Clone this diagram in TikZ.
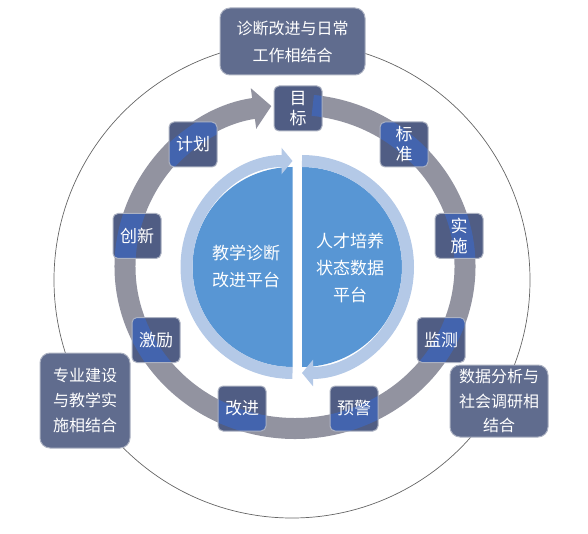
\documentclass[tikz,border=0pt]{standalone}
\usepackage{fontspec}
\setmainfont{Noto Sans CJK SC}
\usetikzlibrary{calc}
\usetikzlibrary{arrows.meta}
\definecolor{ringgray}{RGB}{146,147,160}
\definecolor{boxdark}{RGB}{80,93,132}
\definecolor{hiblue}{RGB}{62,104,192}
\definecolor{outerfill}{RGB}{96,108,142}
\definecolor{edgegray}{RGB}{172,178,194}
\definecolor{coreblue}{RGB}{88,150,212}
\definecolor{corelight}{RGB}{180,201,231}
\tikzstyle{ringpath} = [insert path={(hub) ++(84:170pt and 162pt) arc[start angle=84, end angle=-262, x radius=170pt, y radius=162pt]}]
\tikzstyle{stepnode} = [draw=edgegray, line width=1pt, fill=boxdark, rounded corners=5pt, minimum width=48pt, minimum height=45pt, inner sep=1pt, text=white, align=center, font=\fontsize{17}{20}\selectfont, path picture={\path[draw=hiblue, draw opacity=0.7, line width=21pt, ringpath];}]
\tikzstyle{goalnode} = [draw=edgegray, line width=1pt, fill=outerfill, rounded corners=10pt, inner sep=2pt, text=white, align=center, font=\fontsize{16}{25}\selectfont]
\tikzstyle{platform} = [text=white, align=center, font=\fontsize{17}{27}\selectfont]

\begin{document}
\begin{tikzpicture}[x=1pt, y=1pt]
\useasboundingbox (0,0) rectangle (588,533);
\coordinate (hub) at (295,266.5);
\coordinate (wheel) at (298,268);
\coordinate (orbit) at (292,253);
\coordinate (core) at (297.5,266);

\draw[black!60, line width=0.7pt] (orbit) circle[radius=238pt];
\draw[ringgray, line width=21pt, -{Triangle[width=40pt, length=18pt]}, ringpath];

\fill[coreblue] ($(core)+(-5,-100)$) arc[start angle=270, end angle=90, radius=100pt] -- cycle;
\draw[corelight, line width=12pt, -{Triangle[width=26pt, length=11pt]}] ($(core)+(-5,-106)$) arc[start angle=270, end angle=90, radius=106pt];
\fill[coreblue] ($(core)+(4.5,100)$) arc[start angle=90, end angle=-90, radius=100pt] -- cycle;
\draw[corelight, line width=12pt, -{Triangle[width=26pt, length=11pt]}] ($(core)+(4.5,106)$) arc[start angle=90, end angle=-90, radius=106pt];
\node[platform] (diag) at ($(core)+(-51.5,1)$) {教学诊断\\改进平台};
\node[platform] (data) at ($(core)+(52.5,-1)$) {人才培养\\状态数据\\平台};

\node[stepnode] (goal) at ($(wheel)+(0,156.5)$) {目\\标};
\node[stepnode] (standard) at ($(wheel)+(106,120.5)$) {标\\准};
\node[stepnode] (implement) at ($(wheel)+(161,29)$) {实\\施};
\node[stepnode] (monitor) at ($(wheel)+(143,-75)$) {监测};
\node[stepnode] (warn) at ($(wheel)+(56,-143.5)$) {预警};
\node[stepnode] (improve) at ($(wheel)+(-56,-143.5)$) {改进};
\node[stepnode] (incent) at ($(wheel)+(-142,-75)$) {激励};
\node[stepnode] (innovate) at ($(wheel)+(-161,29)$) {创新};
\node[stepnode] (plan) at ($(wheel)+(-105,120.5)$) {计划};

\node[goalnode, minimum width=145pt, minimum height=67pt, font=\fontsize{16}{27}\selectfont] (daily) at (292.5,491.5) {诊断改进与日常\\工作相结合};
\node[goalnode, minimum width=90pt, minimum height=95pt] (major) at (85,132.5) {专业建设\\与教学实\\施相结合};
\node[goalnode, minimum width=98pt, minimum height=72pt, font=\fontsize{16}{24.5}\selectfont] (survey) at (499,132) {数据分析与\\社会调研相\\结合};
\end{tikzpicture}
\end{document}
